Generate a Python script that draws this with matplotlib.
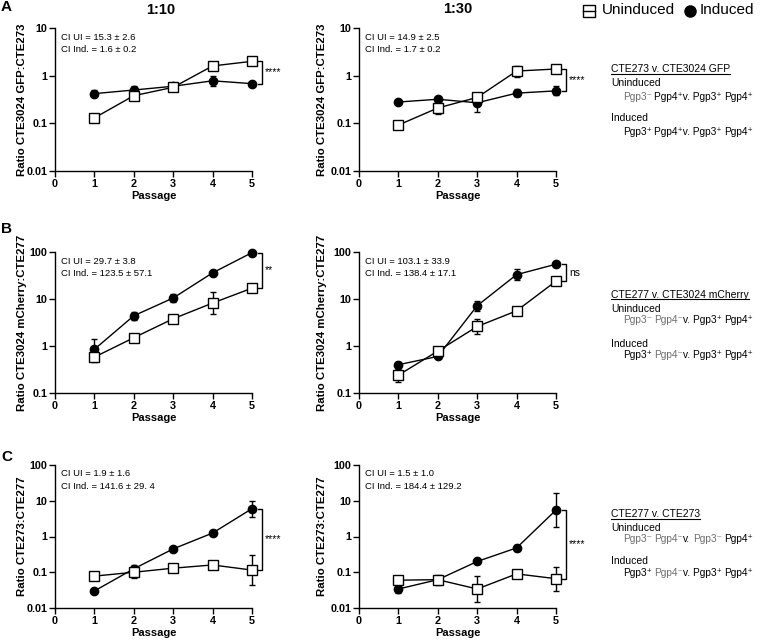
import matplotlib
matplotlib.use('Agg')
import matplotlib.pyplot as plt
from matplotlib.lines import Line2D
from matplotlib.ticker import NullLocator
import numpy as np

plt.rcParams['font.family'] = ['Liberation Sans', 'DejaVu Sans']

passage = [1, 2, 3, 4, 5]

# A: CTE3024 GFP : CTE273
a10_un = [0.13, 0.38, 0.57, 1.6, 2.0]
a10_un_lo = [0.12, 0.35, 0.53, 1.45, 1.9]
a10_un_hi = [0.14, 0.41, 0.61, 1.75, 2.1]
a10_in = [0.42, 0.50, 0.60, 0.78, 0.68]
a10_in_lo = [0.35, 0.42, 0.55, 0.60, 0.64]
a10_in_hi = [0.50, 0.60, 0.65, 1.00, 0.72]

a30_un = [0.092, 0.21, 0.35, 1.25, 1.38]
a30_un_lo = [0.085, 0.16, 0.29, 0.95, 1.3]
a30_un_hi = [0.10, 0.26, 0.42, 1.6, 1.46]
a30_in = [0.28, 0.32, 0.27, 0.43, 0.48]
a30_in_lo = [0.26, 0.30, 0.17, 0.37, 0.40]
a30_in_hi = [0.30, 0.35, 0.35, 0.52, 0.60]

# B: CTE3024 mCherry : CTE277
b10_un = [0.58, 1.5, 3.8, 8.2, 17]
b10_un_lo = [0.45, 1.4, 3.5, 4.8, 16]
b10_un_hi = [0.72, 1.6, 4.1, 14, 18]
b10_in = [0.85, 4.4, 10.5, 36, 97]
b10_in_lo = [0.55, 3.6, 8.5, 34, 92]
b10_in_hi = [1.4, 5.4, 12.5, 38, 102]

b30_un = [0.24, 0.78, 2.6, 5.6, 24]
b30_un_lo = [0.17, 0.72, 1.8, 5.2, 22]
b30_un_hi = [0.33, 0.84, 3.8, 6.0, 26]
b30_in = [0.40, 0.60, 7.2, 33, 55]
b30_in_lo = [0.36, 0.56, 5.5, 25, 52]
b30_in_hi = [0.45, 0.64, 9.0, 43, 58]

# C: CTE273 : CTE277
c10_un = [0.078, 0.10, 0.13, 0.16, 0.115]
c10_un_lo = [0.074, 0.07, 0.12, 0.15, 0.045]
c10_un_hi = [0.082, 0.13, 0.14, 0.17, 0.30]
c10_in = [0.030, 0.125, 0.45, 1.25, 6.0]
c10_in_lo = [0.028, 0.09, 0.42, 1.18, 3.5]
c10_in_hi = [0.032, 0.16, 0.48, 1.32, 10]

c30_un = [0.060, 0.062, 0.034, 0.090, 0.066]
c30_un_lo = [0.047, 0.050, 0.015, 0.084, 0.030]
c30_un_hi = [0.075, 0.075, 0.080, 0.096, 0.140]
c30_in = [0.034, 0.062, 0.20, 0.48, 5.5]
c30_in_lo = [0.027, 0.045, 0.19, 0.40, 1.8]
c30_in_hi = [0.043, 0.085, 0.21, 0.58, 16]

ci_text = {
    'a10': ('CI UI = 15.3 ± 2.6', 'CI Ind. = 1.6 ± 0.2'),
    'a30': ('CI UI = 14.9 ± 2.5', 'CI Ind. = 1.7 ± 0.2'),
    'b10': ('CI UI = 29.7 ± 3.8', 'CI Ind. = 123.5 ± 57.1'),
    'b30': ('CI UI = 103.1 ± 33.9', 'CI Ind. = 138.4 ± 17.1'),
    'c10': ('CI UI = 1.9 ± 1.6', 'CI Ind. = 141.6 ± 29. 4'),
    'c30': ('CI UI = 1.5 ± 1.0', 'CI Ind. = 184.4 ± 129.2'),
}
sig = {'a10': '****', 'a30': '****', 'b10': '**', 'b30': 'ns', 'c10': '****', 'c30': '****'}

W, H = 760, 643
fig = plt.figure(figsize=(W / 100, H / 100), dpi=100)

rows = [
    ('a', 28, 171, (0.01, 10), [0.01, 0.1, 1, 10], 'Ratio CTE3024 GFP:CTE273'),
    ('b', 252, 393, (0.1, 100), [0.1, 1, 10, 100], 'Ratio CTE3024 mCherry:CTE277'),
    ('c', 465, 608, (0.01, 100), [0.01, 0.1, 1, 10, 100], 'Ratio CTE273:CTE277'),
]
cols = [('10', 55, 252, 27), ('30', 359, 556, 327)]

data = {
    'a10': (a10_un, a10_un_lo, a10_un_hi, a10_in, a10_in_lo, a10_in_hi),
    'a30': (a30_un, a30_un_lo, a30_un_hi, a30_in, a30_in_lo, a30_in_hi),
    'b10': (b10_un, b10_un_lo, b10_un_hi, b10_in, b10_in_lo, b10_in_hi),
    'b30': (b30_un, b30_un_lo, b30_un_hi, b30_in, b30_in_lo, b30_in_hi),
    'c10': (c10_un, c10_un_lo, c10_un_hi, c10_in, c10_in_lo, c10_in_hi),
    'c30': (c30_un, c30_un_lo, c30_un_hi, c30_in, c30_in_lo, c30_in_hi),
}


def fmt(v):
    return '%g' % v


for r, ytop, ybot, ylim, yt, ylab in rows:
    for c, x0, x1, labx in cols:
        key = r + c
        ax = fig.add_axes([x0 / W, 1 - ybot / H, (x1 - x0) / W, (ybot - ytop) / H])
        un, un_lo, un_hi, ind, in_lo, in_hi = [np.array(v) for v in data[key]]
        ax.errorbar(passage, ind, yerr=[ind - in_lo, in_hi - ind], fmt='-o', color='black',
                    ms=6, lw=1, elinewidth=1, capsize=2.5, capthick=1, clip_on=False, zorder=3)
        ax.errorbar(passage, un, yerr=[un - un_lo, un_hi - un], fmt='-s', color='black',
                    mfc='white', mec='black', mew=1, ms=6.5, lw=1, elinewidth=1,
                    capsize=2.5, capthick=1, clip_on=False, zorder=4)
        ax.set_yscale('log')
        ax.set_ylim(*ylim)
        ax.set_xlim(0, 5)
        ax.set_yticks(yt)
        ax.set_yticklabels([fmt(v) for v in yt], fontweight='bold', fontsize=7.8)
        ax.yaxis.set_minor_locator(NullLocator())
        ax.set_xticks(range(6))
        ax.set_xticklabels([str(i) for i in range(6)], fontweight='bold', fontsize=7.8)
        ax.tick_params(length=4, width=1, pad=1.5)
        for s in ['top', 'right']:
            ax.spines[s].set_visible(False)
        for s in ['left', 'bottom']:
            ax.spines[s].set_linewidth(1)
        ax.set_xlabel('Passage', fontweight='bold', fontsize=8, labelpad=2)
        ax.set_ylabel(ylab, fontweight='bold', fontsize=8.2)
        ax.yaxis.set_label_coords((labx - x0) / (x1 - x0), 0.5)

        hpx = ybot - ytop
        ax.text(6 / (x1 - x0), 1 - 9 / hpx, ci_text[key][0], transform=ax.transAxes,
                fontsize=6.8, va='center', ha='left')
        ax.text(6 / (x1 - x0), 1 - 21.5 / hpx, ci_text[key][1], transform=ax.transAxes,
                fontsize=6.8, va='center', ha='left')

        # significance bracket between the last two points
        top = max(un[-1], ind[-1])
        bot = min(un[-1], ind[-1])
        bx = 5.26
        ax.plot([5.14, bx, bx, 5.14], [top, top, bot, bot], color='black', lw=1, clip_on=False)
        ax.text(bx + 0.07, np.sqrt(top * bot), sig[key], fontsize=7.5, va='center', ha='left')

# titles and panel letters
fig.text(161 / W, 1 - 10 / H, '1:10', fontsize=10.5, fontweight='bold', ha='center', va='center')
fig.text(458 / W, 1 - 9 / H, '1:30', fontsize=10.5, fontweight='bold', ha='center', va='center')
for letter, y in [('A', 7), ('B', 229), ('C', 457)]:
    fig.text(1 / W, 1 - y / H, letter, fontsize=11, fontweight='bold', ha='left', va='center')

# legend (top right)
ly = 1 - 11 / H
fig.add_artist(Line2D([583 / W, 595 / W], [ly, ly], color='black', lw=1))
fig.add_artist(Line2D([589 / W], [ly], marker='s', ms=8, mfc='none', mec='black', mew=1, lw=0))
fig.text(602 / W, 1 - 10 / H, 'Uninduced', fontsize=11, va='center', ha='left')
fig.add_artist(Line2D([690 / W], [ly], marker='o', ms=8, color='black', lw=0))
fig.text(700 / W, 1 - 10 / H, 'Induced', fontsize=11, va='center', ha='left')

# genotype descriptions
renderer = fig.canvas.get_renderer()
GRAY = '#6e6e6e'


def rich_line(x_px, y_px, parts, size=7.3):
    x = x_px / W
    for s, col in parts:
        if s == ' ':
            x += 2.4 / W
            continue
        t = fig.text(x, 1 - y_px / H, s, color=col, fontsize=size, va='baseline', ha='left')
        x += t.get_window_extent(renderer=renderer).width / W


def header(x_px, y_px, s, size=7.5):
    t = fig.text(x_px / W, 1 - y_px / H, s, fontsize=size, va='baseline', ha='left')
    bb = t.get_window_extent(renderer=renderer)
    fig.add_artist(Line2D([x_px / W, (x_px + bb.width) / W],
                          [1 - (y_px + 1.5) / H] * 2, color='black', lw=0.8))


M, P = '\u207b', '\u207a'
blocks = [
    ('CTE273 v. CTE3024 GFP', 72, [0, 14, 28, 49, 63],
     [('Pgp3' + M, GRAY), (' ', None), ('Pgp4' + P + 'v. Pgp3' + P, 'black'), (' ', None), ('Pgp4' + P, 'black')],
     [('Pgp3' + P, 'black'), (' ', None), ('Pgp4' + P + 'v. Pgp3' + P, 'black'), (' ', None), ('Pgp4' + P, 'black')]),
    ('CTE277 v. CTE3024 mCherry', 298, [0, 14, 25, 49, 60],
     [('Pgp3' + M, GRAY), (' ', None), ('Pgp4' + M, GRAY), ('v. Pgp3' + P, 'black'), (' ', None), ('Pgp4' + P, 'black')],
     [('Pgp3' + P, 'black'), (' ', None), ('Pgp4' + M, GRAY), ('v. Pgp3' + P, 'black'), (' ', None), ('Pgp4' + P, 'black')]),
    ('CTE277 v. CTE273', 517, [0, 14, 25.5, 47.5, 59],
     [('Pgp3' + M, GRAY), (' ', None), ('Pgp4' + M, GRAY), ('v.', 'black'), (' ', None), ('Pgp3' + M, GRAY), (' ', None), ('Pgp4' + P, 'black')],
     [('Pgp3' + P, 'black'), (' ', None), ('Pgp4' + M, GRAY), ('v. Pgp3' + P, 'black'), (' ', None), ('Pgp4' + P, 'black')]),
]
for title, yb, offs, un_parts, in_parts in blocks:
    header(611, yb + offs[0], title)
    fig.text(611 / W, 1 - (yb + offs[1]) / H, 'Uninduced', fontsize=7.5, va='baseline')
    rich_line(623, yb + offs[2], un_parts)
    fig.text(611 / W, 1 - (yb + offs[3]) / H, 'Induced', fontsize=7.5, va='baseline')
    rich_line(623, yb + offs[4], in_parts)

fig.savefig('out.png', dpi=100)
